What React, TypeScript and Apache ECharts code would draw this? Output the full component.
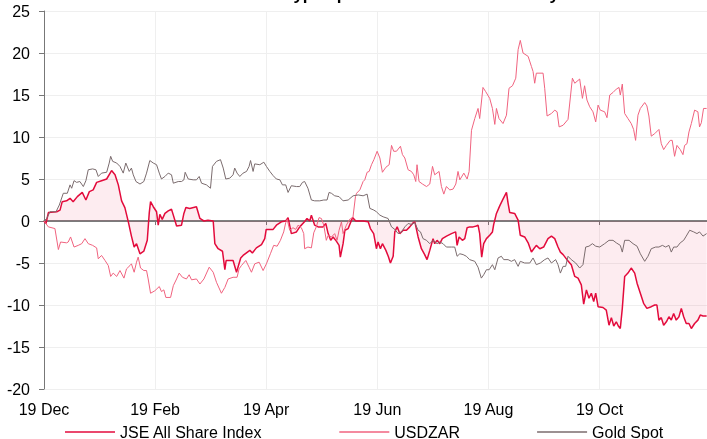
import React, { useEffect, useRef } from "react";
import * as echarts from "echarts";

// x values are days since 19 Dec
const tickLabels = ["19 Dec", "19 Feb", "19 Apr", "19 Jun", "19 Aug", "19 Oct"];
const tickStepDays = 61;
const lastDay = 364;
const seriesNames = ["JSE All Share Index", "USDZAR", "Gold Spot"];
const titleText = "Relative asset types performance over the last year";

const jse: [number, number][] = [
  [0,0],[1.1,-0.3],[2.4,1.0],[7,1.1],[8.8,1.3],[10,2.3],[12.4,2.4],[14.3,2.7],[16,2.3],[18.3,2.9],[21,3.4],[23,2.5],[24.9,3.5],[27,3.7],[28.9,4.6],[31.6,4.8],[34.4,5.0],[37.1,6.0],[39,5.5],[40.8,4.3],[42.6,2.4],[44.4,1.6],[46.3,-0.1],[48,-1.8],[49.5,-3.1],[50.8,-2.7],[52.7,-3.9],[54.8,-3.6],[56.7,-2.3],[57.8,1.0],[58.5,2.3],[60,1.7],[61.8,1.1],[62.7,-0.5],[63.6,0.8],[64.9,0.2],[66.4,0.9],[68.2,1.2],[70,1.4],[71,0.7],[72.8,-0.6],[75.5,-0.5],[76.8,0.9],[77.9,1.6],[80,1.5],[83.7,1.7],[85.6,0.3],[87.8,0],[90,0.1],[92.9,0],[93.8,-2.7],[95.6,-3.3],[98,-3.6],[99.3,-5.8],[100,-4.7],[103.8,-4.7],[105.7,-6.1],[108,-4.4],[109.3,-4.1],[113,-3.5],[114.4,-3.8],[116.6,-3.2],[119.4,-2.8],[121.2,-2.1],[122,-1.0],[125.8,-1.0],[127.6,-0.5],[130.3,-0.1],[132.7,0],[134,0.4],[135.8,-1.5],[138.6,-1.3],[140.4,-0.7],[143,-0.1],[144.4,0.3],[145.9,0],[146.8,0.7],[148.6,-0.5],[150.5,-0.7],[153.2,-0.7],[154.7,-0.3],[156,-1.5],[157.4,-2.3],[158.7,-1.9],[160.5,-2.4],[162,-2.9],[162.7,-4.3],[164.2,-2.7],[165.2,-1.1],[167,-0.9],[169.4,0.4],[171.2,0],[175.2,0],[178,-0.1],[179.2,-0.9],[181,-1.5],[182.5,-3.3],[183.4,-2.5],[184.7,-3.3],[185.8,-2.7],[187.7,-3.5],[189,-4.2],[190.2,-5.0],[191.7,-4.2],[192.6,-1.3],[193.9,-0.7],[195.3,-1.5],[197.2,-1.1],[199,-1.1],[200.8,-0.7],[202.7,-0.2],[203.6,-0.1],[205.4,-1.9],[207.2,-3.3],[209,-4.0],[210.3,-4.6],[211.8,-3.5],[213.6,-2.1],[214.5,-2.7],[215.8,-2.3],[217.3,-2.7],[218.7,-2.1],[221,-1.8],[223.7,-1.5],[226,-1.3],[226.8,-2.9],[227.9,-1.9],[229.7,-2.3],[231,-2.1],[232.3,-0.8],[233.7,-0.7],[235.6,-0.7],[237.4,-0.6],[238.3,-0.5],[239.2,-1.5],[240.3,-4.3],[241.4,-2.7],[242.9,-2.1],[244.7,-1.7],[246.2,-1.3],[246.9,-0.4],[248.4,0.9],[250.2,1.8],[252,2.6],[253.9,3.4],[254.8,2.1],[255.7,1.0],[258.4,0.9],[260.3,0.1],[261.5,-1.7],[263.9,-1.9],[265.8,-2.6],[267.6,-3.7],[268.9,-3.3],[270.3,-2.9],[272.2,-3.3],[274.3,-3.1],[276.7,-2.1],[278.6,-1.8],[280.4,-2.1],[282.2,-3.1],[283.5,-3.7],[285,-4.0],[287.1,-4.6],[289.5,-5.2],[291.4,-6.6],[293.2,-6.8],[295,-7.6],[296.3,-9.9],[297.8,-8.2],[299.2,-9.2],[300.5,-8.6],[301.8,-9.6],[302.9,-8.6],[304.2,-10.2],[306.9,-10.3],[308.7,-10.6],[310.2,-12.4],[311.5,-11.5],[312.8,-12.5],[314.2,-12.0],[315.3,-12.5],[316.4,-12.8],[317.5,-10.4],[318.8,-6.6],[320.6,-6.2],[322.4,-5.6],[324.3,-6.2],[325.6,-7.4],[327.4,-8.6],[329.2,-9.8],[331,-10.4],[333.4,-10.2],[335.3,-10.0],[336.5,-10.0],[337.6,-11.8],[338.9,-11.5],[340.2,-12.4],[341.7,-12.0],[343.1,-11.4],[344.4,-11.8],[345.7,-11.0],[347.1,-11.8],[348.6,-11.4],[349.9,-10.4],[351.2,-11.4],[352.6,-12.2],[354.1,-12.2],[355.4,-12.8],[357.2,-12.2],[359,-11.8],[360.3,-11.2],[361.8,-11.3],[363.8,-11.3]
];

const usdzar: [number, number][] = [
  [0,0],[2.4,-0.7],[6,-0.9],[7.9,-3.4],[9.1,-2.5],[12.4,-2.6],[13.3,-2.5],[14.6,-1.9],[16.5,-3.1],[18.8,-2.9],[20.7,-2.7],[22.5,-2.1],[24.3,-2.7],[26.7,-2.9],[28.9,-3.2],[29.8,-4.5],[31.6,-4.1],[33.5,-4.7],[35.3,-5.3],[36.6,-6.6],[38,-6.2],[39.9,-6.6],[41.7,-5.9],[43.9,-6.8],[45.3,-5.7],[47.2,-5.3],[48,-5.1],[49.5,-6.1],[50.8,-4.9],[51.7,-4.3],[53,-5.6],[54.8,-5.9],[56.3,-5.9],[57.2,-6.9],[58.5,-8.6],[60.9,-8.3],[63.3,-7.8],[64.5,-8.4],[65.8,-8.2],[66.9,-9.1],[69.5,-9.1],[71,-7.7],[72.8,-6.9],[74.2,-6.2],[76,-6.7],[78.2,-6.9],[79.7,-6.4],[81,-7.0],[83.7,-6.9],[85.6,-7.5],[87.8,-6.9],[90.7,-5.5],[92.9,-6.1],[94.7,-7.3],[97.4,-8.6],[99.3,-7.9],[101.1,-6.9],[103.8,-6.7],[106,-6.7],[107.1,-5.7],[108.4,-5.3],[110.8,-4.7],[112.6,-5.5],[113.9,-6.1],[115.7,-5.1],[118.1,-4.9],[120.3,-5.9],[122.1,-5.1],[124.3,-3.9],[126.1,-2.9],[128,-3.0],[129.8,-2.3],[131.6,-1.3],[132.7,-0.2],[133.5,0.2],[134.9,-1.1],[136.7,-0.8],[138.2,-1.0],[139.5,-0.5],[141.3,-0.8],[142.6,-1.5],[143.1,-3.3],[144.9,-3.1],[146.8,-3.2],[148.1,-1.4],[149.5,-0.7],[151,0.4],[152.3,0.3],[153.6,-0.5],[155,-2.3],[156,-1.7],[157.8,-1.9],[159.6,-1.5],[160.9,-2.3],[162,-1.1],[163.3,-0.1],[164.2,-1.5],[166,-0.5],[167.8,0.2],[169.6,0.4],[171,2.9],[171.6,3.3],[173.4,3.7],[175.2,4.7],[176.1,4.9],[177.4,5.8],[178.5,5.9],[179.8,6.7],[181.1,7.3],[182.9,8.3],[184.4,7.5],[185.8,5.8],[187.7,6.4],[189.5,6.7],[190.8,9.0],[192,8.3],[193.5,8.3],[195.7,8.9],[196.8,7.9],[198.1,7.5],[199.9,6.1],[201.7,5.9],[203,5.5],[204.1,4.7],[204.8,6.7],[205.9,4.7],[207.8,4.4],[210,4.1],[211.8,4.4],[213.3,6.5],[214.5,5.5],[216.9,5.9],[218.2,4.1],[219.5,3.2],[220.9,4.1],[222.8,3.7],[224.6,3.8],[226.1,4.4],[227.3,5.9],[228.3,4.9],[230.5,5.7],[232.3,5.0],[233.4,5.9],[234.7,10.8],[236.5,12.2],[238.3,13.4],[239.2,12.2],[241,15.9],[242.5,15.4],[244.7,14.6],[246.2,13.4],[247.5,11.5],[248.4,13.4],[249.8,12.2],[252,11.6],[253.9,12.6],[255.3,15.8],[257.2,16.1],[259,17.0],[260.3,20.4],[261.5,21.5],[263,20.0],[265.8,19.6],[267.6,18.4],[268.5,17.8],[269.4,16.4],[270.3,17.6],[274,17.6],[274.9,15.8],[276.2,12.5],[278.6,12.8],[280.4,13.2],[281.7,13.0],[282.8,11.2],[285,11.4],[287.7,12.1],[290.1,17.0],[291.4,16.4],[294.1,16.9],[295.6,14.6],[296.8,16.1],[298.1,14.4],[299.6,13.6],[301.4,13.0],[302.9,11.8],[304.2,13.8],[305.4,13.2],[307.8,13.0],[309.1,12.3],[310.6,15.0],[312.4,15.3],[314.2,15.7],[315.7,15.9],[316.4,15.0],[317.5,16.3],[318.8,12.8],[320.6,12.2],[322.4,11.6],[323.7,10.9],[324.8,9.6],[326.1,12.6],[327.4,13.4],[329.8,14.1],[331,13.7],[332.1,12.5],[333.4,10.1],[335.3,10.4],[337.6,10.9],[338.9,9.2],[340.2,8.5],[341.7,9.0],[343.8,9.6],[344.9,9.6],[346.2,7.7],[347.5,9.0],[349.3,8.5],[350.8,7.9],[351.7,9.0],[353,9.2],[354.1,10.6],[355.4,11.6],[357.2,13.2],[359,13.0],[359.9,11.2],[360.9,11.7],[362.1,13.4],[363.8,13.4]
];

const gold: [number, number][] = [
  [0,0],[1.5,0.3],[3.3,1.1],[6.6,1.1],[8.4,1.9],[10.6,3.3],[12.8,3.3],[14.3,4.3],[15.2,3.9],[16.5,4.8],[17.9,4.6],[19.7,4.7],[21.6,4.1],[23,4.8],[24.3,6.1],[26.7,6.2],[28.5,6.1],[29.8,5.3],[31.6,5.7],[34.4,5.8],[35.8,6.9],[36.6,7.7],[37.7,7.1],[39.9,6.9],[41.7,6.5],[43.5,5.7],[44.9,6.9],[46.8,5.9],[48,6.3],[49,5.5],[50.5,4.7],[52.7,4.4],[54.8,4.7],[56.3,5.7],[58.1,7.2],[60,6.9],[61.8,6.7],[63.3,5.7],[64.5,5.0],[66.4,5.3],[68.2,5.7],[70,5.5],[71,4.5],[73.7,4.7],[75.5,4.7],[76.8,4.9],[77.5,5.8],[79.2,5.0],[81.9,4.9],[83.7,4.9],[85.2,5.3],[86.5,4.5],[89.2,4.3],[91.4,3.9],[92.5,6.5],[94.7,7.1],[96.9,7.3],[98.4,6.3],[99.8,5.0],[102,5.1],[103.8,5.5],[104.7,6.3],[106,5.7],[107.5,5.3],[109.3,5.7],[111.2,5.9],[112.6,6.5],[113.4,7.2],[114.8,5.9],[115.7,6.8],[118.5,6.7],[120.7,7.0],[122.1,6.5],[124,5.9],[125.8,5.4],[127.6,5.0],[129.5,4.9],[130.9,4.3],[132.7,4.3],[134,3.4],[135.8,4.2],[138.6,4.1],[140.4,4.1],[141.9,4.6],[143.1,4.7],[144.9,3.9],[146.8,2.5],[148.6,2.4],[151.4,2.4],[153.6,2.5],[155.4,2.5],[156.5,3.4],[157.8,3.3],[159.6,3.0],[162,2.9],[164.2,2.4],[167,2.5],[169.7,3.0],[172.5,3.1],[175.2,3.0],[177.4,3.2],[178.9,1.5],[181.1,1.3],[182.5,1.1],[184.4,0.7],[186.2,0.5],[188.9,0.3],[190.8,-0.7],[192.6,-1.0],[194.4,-1.5],[196.3,-1.3],[198.1,-0.7],[199.9,-0.3],[201.7,-0.4],[203.6,-0.2],[205.4,-1.1],[206.7,-1.3],[208.1,-2.1],[210,-2.3],[211.8,-2.7],[213.6,-2.3],[215.8,-2.7],[217.3,-2.5],[219.1,-2.7],[220.9,-3.1],[223.7,-3.1],[225.5,-3.1],[226.8,-4.2],[228.3,-3.9],[230.1,-4.0],[231.9,-4.2],[233.7,-4.6],[236.5,-4.8],[238.3,-5.5],[240.1,-6.8],[241.4,-6.4],[242.9,-5.8],[244.4,-5.8],[246.2,-5.2],[247.5,-5.8],[249.3,-4.4],[251.1,-4.2],[252.4,-4.6],[254.8,-4.6],[256.6,-4.8],[258.4,-4.6],[260.3,-5.4],[261.5,-4.8],[263.9,-5.0],[266.7,-5.0],[268.5,-4.4],[270.3,-5.2],[272.5,-5.0],[274.9,-4.6],[276.7,-4.4],[278.6,-5.0],[280.9,-4.6],[282.2,-5.2],[283.5,-6.2],[285,-5.4],[286.4,-5.4],[287.7,-4.2],[289.5,-4.6],[291.9,-5.0],[294.1,-5.6],[295.9,-5.2],[297.4,-3.1],[299.2,-3.0],[301.1,-2.7],[302.9,-3.0],[305.1,-3.1],[307.8,-2.7],[310.2,-2.3],[312.4,-2.3],[314.2,-2.6],[316.4,-2.9],[317.5,-3.7],[318.8,-2.3],[321.2,-2.3],[323.4,-2.7],[325.6,-3.0],[327.4,-3.9],[329.8,-4.8],[331.6,-4.2],[333.4,-3.3],[335.8,-3.1],[337.6,-3.1],[339.5,-2.9],[341.3,-3.1],[343.1,-2.9],[344.4,-3.7],[345.7,-3.1],[347.5,-3.1],[349.3,-2.6],[351.2,-2.3],[352.6,-1.8],[354.5,-1.1],[356.7,-1.3],[358.5,-1.5],[359.9,-1.3],[361.8,-1.8],[363.8,-1.5]
];

const FONT = '"Liberation Sans", Arial, Helvetica, sans-serif';

export default function App() {
  const ref = useRef<HTMLDivElement>(null);
  useEffect(() => {
    if (!ref.current) return;
    const chart = echarts.init(ref.current, undefined, { renderer: "svg" });
    const xLabel = (v: number) => {
      const i = Math.round(v / tickStepDays);
      return Math.abs(v - i * tickStepDays) < 0.01 && i < tickLabels.length ? tickLabels[i] : "";
    };
    const xCommon = {
      type: "value" as const,
      min: 0,
      max: lastDay,
      interval: tickStepDays,
    };
    chart.setOption({
      animation: false,
      textStyle: { fontFamily: FONT },
      title: {
        text: titleText,
        left: 372,
        top: -19,
        textAlign: "center",
        textStyle: { fontFamily: FONT, fontSize: 17, fontWeight: "bold", color: "#000" },
      },
      legend: {
        data: seriesNames,
        left: 60,
        top: 419,
        icon: "rect",
        itemWidth: 50,
        itemHeight: 1.5,
        itemGap: 77,
        textStyle: { fontFamily: FONT, fontSize: 16, color: "#000" },
      },
      grid: { left: 44, right: 0, top: 11, bottom: 50, containLabel: false },
      xAxis: [
        {
          ...xCommon,
          position: "bottom",
          axisLine: { show: true, onZero: true, lineStyle: { color: "#555", width: 1.5 } },
          axisTick: { show: true, length: 4, lineStyle: { color: "#777" } },
          axisLabel: { show: false },
          splitLine: { show: false },
        },
        {
          ...xCommon,
          position: "bottom",
          axisLine: { show: false, onZero: false },
          axisTick: { show: false },
          axisLabel: {
            show: true,
            margin: 12,
            fontFamily: FONT,
            fontSize: 16,
            color: "#000",
            showMaxLabel: false,
            formatter: xLabel,
          },
          splitLine: { show: true, showMaxLine: false, lineStyle: { color: "#efefef", width: 1 } },
        },
      ],
      yAxis: {
        type: "value",
        min: -20,
        max: 25,
        interval: 5,
        axisLine: { show: true, lineStyle: { color: "#777", width: 1 } },
        axisTick: { show: true, length: 5, lineStyle: { color: "#777" } },
        axisLabel: { fontFamily: FONT, fontSize: 16, color: "#000", margin: 14 },
        splitLine: { show: true, lineStyle: { color: "#efefef", width: 1 } },
      },
      series: [
        {
          name: seriesNames[0],
          type: "line",
          xAxisIndex: 0,
          data: jse,
          symbol: "none",
          lineStyle: { color: "#e30b3c", width: 1.5 },
          itemStyle: { color: "#e30b3c" },
          areaStyle: { color: "rgba(227, 11, 60, 0.11)", origin: 0 },
          z: 2,
        },
        {
          name: seriesNames[1],
          type: "line",
          xAxisIndex: 0,
          data: usdzar,
          symbol: "none",
          lineStyle: { color: "#f0637f", width: 1 },
          itemStyle: { color: "#f0637f" },
          z: 3,
        },
        {
          name: seriesNames[2],
          type: "line",
          xAxisIndex: 0,
          data: gold,
          symbol: "none",
          lineStyle: { color: "#7b6c6e", width: 1 },
          itemStyle: { color: "#7b6c6e" },
          z: 4,
        },
      ],
    });
    return () => chart.dispose();
  }, []);
  return (
    <div
      ref={ref}
      style={{ position: "fixed", left: 0, top: 0, width: 707, height: 439 }}
    />
  );
}
